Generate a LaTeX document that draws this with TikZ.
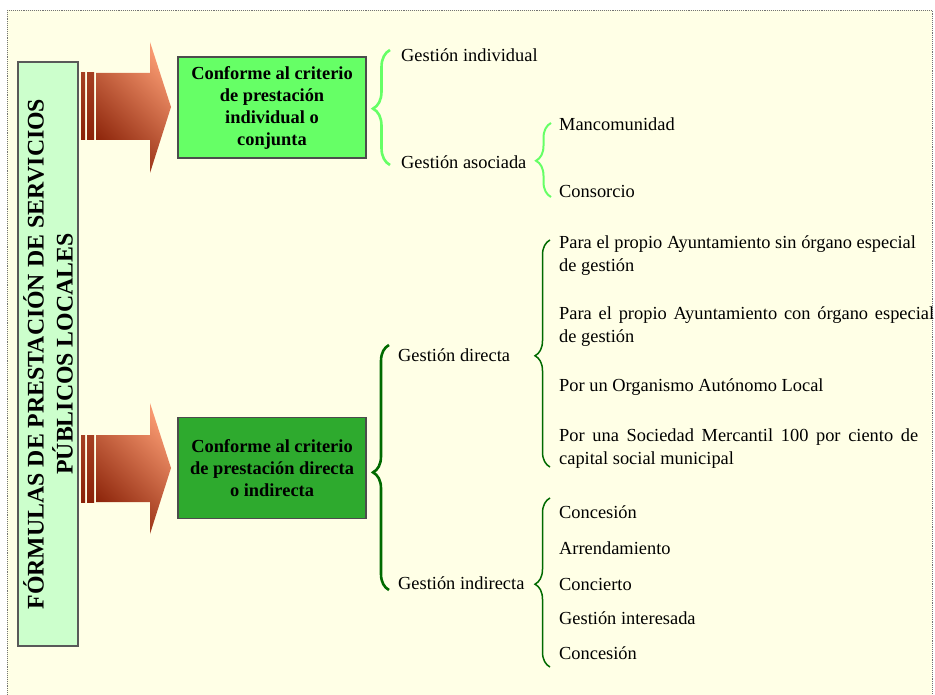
\documentclass[tikz,border=0pt]{standalone}
\usepackage{fontspec}
\setmainfont{Liberation Serif}
\usetikzlibrary{decorations.pathreplacing}

\definecolor{bg}{HTML}{FFFFE6}
\definecolor{vboxfill}{HTML}{CCFFCC}
\definecolor{lgreen}{HTML}{66FF66}
\definecolor{dgreen}{HTML}{2EAA2E}
\definecolor{brdark}{HTML}{006A00}
\definecolor{brlight}{HTML}{66FF66}
\definecolor{arrdark}{HTML}{8A2208}
\definecolor{arrlight}{HTML}{F7986F}

\begin{document}
\begin{tikzpicture}[x=1pt,y=-1pt,
  item/.style={anchor=west, inner sep=0pt, font=\fontsize{18.4}{23}\selectfont, align=left},
  critbox/.style={draw=black!70, line width=1.1pt, minimum width=188pt, minimum height=101pt,
    inner sep=0pt, align=center, font=\fontsize{18.4}{22}\selectfont\bfseries},
  mainbox/.style={draw=black!65, line width=1.3pt, fill=vboxfill, rotate=90,
    minimum width=584pt, minimum height=60pt, inner sep=0pt, align=center,
    font=\fontsize{23.8}{29}\selectfont\bfseries},
  bigbrace/.style={decorate, decoration={brace, amplitude=#1}},
  stripe/.style={top color=arrdark!75!arrlight, bottom color=arrdark},
  arrowbody/.style={top color=arrlight, bottom color=arrdark, shading angle=-45}
]
\useasboundingbox (0,0) rectangle (935,695);

% background
\draw[densely dotted, line width=0.9pt, draw=black!55, fill=bg] (7,10) rectangle (932,712);

% main vertical box
\node[mainbox] (main) at (48,354) {FÓRMULAS DE PRESTACIÓN DE SERVICIOS\\PÚBLICOS LOCALES};

% arrows
\shade[stripe] (81,73) rectangle (85,140);
\shade[stripe] (87,73) rectangle (94,140);
\shade[arrowbody] (96,73) -- (150,73) -- (150,42) -- (171,107) -- (150,173) -- (150,140) -- (96,140) -- cycle;
\shade[stripe] (81,435) rectangle (85,502);
\shade[stripe] (87,435) rectangle (94,502);
\shade[arrowbody] (96,435) -- (150,435) -- (150,403) -- (171,468) -- (150,534) -- (150,502) -- (96,502) -- cycle;

% criterion boxes
\node[critbox, fill=lgreen] (c1) at (272,107.5) {Conforme al criterio\\de prestación\\individual o\\conjunta};
\node[critbox, fill=dgreen] (c2) at (272,468) {Conforme al criterio\\de prestación directa\\o indirecta};

% --- first group
\coordinate (b1s) at (390,165);
\coordinate (b1e) at (390,50);
\draw[brlight, line width=2.6pt, bigbrace=17pt, decoration={aspect=0.49}] (b1s) -- (b1e);
\node[item] (gi) at (401,55) {Gestión individual};
\node[item] (ga) at (401,162) {Gestión asociada};

\coordinate (b2s) at (551,197);
\coordinate (b2e) at (551,123);
\draw[brlight, line width=2pt, bigbrace=15pt, decoration={aspect=0.49}] (b2s) -- (b2e);
\node[item] (man) at (559,124) {Mancomunidad};
\node[item] (con) at (559,191) {Consorcio};

% --- second group
\coordinate (b3s) at (389,590);
\coordinate (b3e) at (389,345);
\draw[brdark, line width=2.6pt, bigbrace=16pt, decoration={aspect=0.48}] (b3s) -- (b3e);
\node[item] (gd) at (398,355) {Gestión directa};
\node[item] (gin) at (398,583) {Gestión indirecta};

\coordinate (b4s) at (550,467);
\coordinate (b4e) at (550,240);
\draw[brdark, line width=1.5pt, bigbrace=15pt, decoration={aspect=0.49}] (b4s) -- (b4e);
\node[item] (d1) at (559,255.5) {Para el propio Ayuntamiento sin órgano especial\\de gestión};
\node[item] (d2) at (559,326.5) {\hbox to 375pt{Para el propio Ayuntamiento con órgano especial}\\de gestión};
\node[item] (d3) at (559,387) {Por un Organismo Autónomo Local};
\node[item] (d4) at (559,448.5) {\hbox to 359pt{Por una Sociedad Mercantil 100 por ciento de}\\capital social municipal};

\coordinate (b5s) at (550,667);
\coordinate (b5e) at (550,498);
\draw[brdark, line width=1.5pt, bigbrace=15pt, decoration={aspect=0.49}] (b5s) -- (b5e);
\node[item] (i1) at (559,512) {Concesión};
\node[item] (i2) at (559,548) {Arrendamiento};
\node[item] (i3) at (559,584) {Concierto};
\node[item] (i4) at (559,618) {Gestión interesada};
\node[item] (i5) at (559,653) {Concesión};
\end{tikzpicture}
\end{document}
